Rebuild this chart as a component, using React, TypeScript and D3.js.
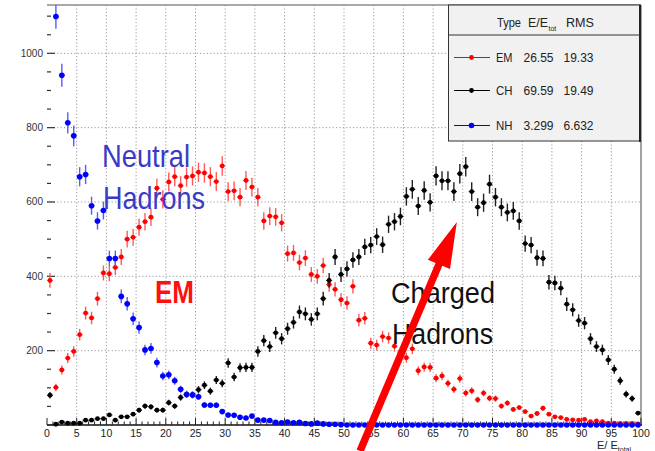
import React from "react";
import * as d3 from "d3";

// Per-bin counts, E/E_total from 0 to 100 in 100 bins of width 1
const emCounts = [
  389, 101, 148, 180, 198, 243, 301, 288, 340, 409,
  407, 424, 452, 500, 505, 532, 547, 559, 637, 607,
  654, 668, 644, 667, 670, 680, 678, 668, 655, 697,
  628, 630, 613, 658, 640, 613, 549, 562, 560, 544,
  461, 463, 437, 449, 405, 400, 429, 378, 365, 337,
  328, 373, 282, 287, 220, 215, 238, 234, 212, 196,
  181, 205, 146, 156, 155, 126, 132, 112, 96, 125,
  86, 92, 68, 86, 72, 71, 51, 59, 42, 47,
  36, 24, 31, 45, 29, 22, 20, 15, 14, 13,
  15, 9, 11, 9, 5, 5, 4, 4, 4, 3,
];

const chCounts = [
  80, 2, 8, 5, 5, 5, 13, 13, 17, 17,
  27, 13, 22, 22, 29, 40, 51, 49, 40, 40,
  60, 51, 74, 83, 81, 95, 107, 91, 121, 112,
  167, 129, 154, 155, 155, 198, 227, 211, 248, 232,
  259, 276, 304, 299, 284, 299, 340, 389, 452, 405,
  420, 444, 452, 479, 484, 507, 485, 540, 547, 561,
  615, 634, 589, 631, 599, 670, 657, 657, 628, 676,
  695, 628, 586, 598, 648, 613, 586, 572, 576, 549,
  488, 484, 450, 448, 384, 382, 368, 325, 310, 281,
  274, 232, 211, 202, 175, 150, 119, 83, 71, 32,
];

// First bin lies above the drawn range
const nhCounts: (number | null)[] = [
  null, 1099, 941, 813, 778, 668, 674, 590, 549, 577,
  448, 448, 346, 326, 286, 262, 202, 206, 168, 132,
  135, 119, 96, 82, 81, 76, 54, 53, 53, 36,
  27, 26, 21, 19, 24, 13, 13, 12, 7, 6,
  8, 6, 7, 4, 3, 5, 3, 2, 2, 1,
  0, 0, 0, 0, 0, 0, 0, 0, 0, 0,
  0, 0, 0, 0, 0, 0, 0, 0, 0, 0,
  0, 0, 0, 0, 0, 0, 0, 0, 0, 0,
  0, 0, 0, 0, 0, 0, 0, 0, 0, 0,
  0, 0, 0, 0, 0, 0, 0, 0, 0, 0,
];

const xTickLabels = ["0", "5", "10", "15", "20", "25", "30", "35", "40", "45", "50",
  "55", "60", "65", "70", "75", "80", "85", "90", "95", "100"];
const yTickLabels = ["200", "400", "600", "800", "1000"];

const legendRows = [
  { type: "EM", mean: "26.55", rms: "19.33" },
  { type: "CH", mean: "69.59", rms: "19.49" },
  { type: "NH", mean: "3.299", rms: "6.632" },
];

// Arrow pointing at the charged-hadron peak (data coordinates)
const arrowFrom = { e: 52.7, n: -70 };
const arrowTo = { e: 69.0, n: 546 };

const W = 655;
const H = 451;
const FONT = "'Liberation Sans', Arial, Helvetica, sans-serif";

const x = d3.scaleLinear().domain([0, 100]).range([47, 641]);
const y = d3.scaleLinear().domain([0, 1130]).range([425, 5]);

type Series = {
  key: string;
  counts: (number | null)[];
  color: string;
  errColor: string;
  r: number;
};

const series: Series[] = [
  { key: "em", counts: emCounts, color: "#ff0000", errColor: "#ff5a5a", r: 2.4 },
  { key: "ch", counts: chCounts, color: "#000000", errColor: "#222222", r: 2.4 },
  { key: "nh", counts: nhCounts, color: "#0000ff", errColor: "#5a5aff", r: 2.8 },
];

function Hist({ s }: { s: Series }) {
  const binW = x(1) - x(0);
  return (
    <g>
      {s.counts.map((v, i) => {
        if (v === null) return null;
        const cx = x(i + 0.5);
        const err = Math.sqrt(v);
        return (
          <g key={i}>
            <line x1={cx} x2={cx} y1={y(v + err)} y2={y(Math.max(0, v - err))}
              stroke={s.errColor} strokeWidth={1.4} />
            <line x1={cx - binW / 2} x2={cx + binW / 2} y1={y(v)} y2={y(v)}
              stroke={s.errColor} strokeWidth={1.2} />
            <circle cx={cx} cy={y(v)} r={s.r} fill={s.color} />
          </g>
        );
      })}
    </g>
  );
}

function Arrow() {
  const x0 = x(arrowFrom.e), y0 = y(arrowFrom.n);
  const x1 = x(arrowTo.e), y1 = y(arrowTo.n);
  const len = Math.hypot(x1 - x0, y1 - y0);
  const ux = (x1 - x0) / len, uy = (y1 - y0) / len;
  const px = -uy, py = ux;
  const headLen = 46, headHalf = 12, shaftHalf = 3.7;
  const bx = x1 - ux * headLen, by = y1 - uy * headLen;
  const pts = [
    [x0 + px * shaftHalf, y0 + py * shaftHalf],
    [bx + px * shaftHalf, by + py * shaftHalf],
    [bx + px * headHalf, by + py * headHalf],
    [x1, y1],
    [bx - px * headHalf, by - py * headHalf],
    [bx - px * shaftHalf, by - py * shaftHalf],
    [x0 - px * shaftHalf, y0 - py * shaftHalf],
  ];
  return <polygon points={pts.map((p) => p.join(",")).join(" ")} fill="#ff0000" />;
}

function Word({ x: tx, y: ty, w, size, fill, weight, children }: {
  x: number; y: number; w: number; size: number; fill: string; weight?: string; children: string;
}) {
  return (
    <text x={tx} y={ty} fontSize={size} fill={fill} fontWeight={weight || "normal"}
      textLength={w} lengthAdjust="spacingAndGlyphs" fontFamily={FONT}>
      {children}
    </text>
  );
}

export default function App() {
  const xMajor = d3.range(0, 101, 5);
  const xMinor = d3.range(0, 101, 1).filter((v) => v % 5 !== 0);
  const yMajor = d3.range(0, 1001, 200);
  const yMinor = d3.range(50, 1101, 50).filter((v) => v % 200 !== 0);
  const x0 = x(0), x1 = x(100), yBase = y(0), yTop = 5;

  const lgX0 = 448.5, lgX1 = 640, lgY0 = 5, lgY1 = 141;
  const rowY = [57.5, 90.5, 125.5];

  return (
    <svg width={W} height={H} viewBox={`0 0 ${W} ${H}`}
      style={{ position: "absolute", left: 0, top: 0, background: "#fff" }}
      fontFamily={FONT}>
      <defs>
        <clipPath id="plotArea">
          <rect x={x0} y={yTop} width={x1 - x0} height={yBase - yTop + 4} />
        </clipPath>
      </defs>
      <rect x={0} y={0} width={W} height={H} fill="#fff" />

      {/* grid */}
      <g stroke="#9a9a9a" strokeWidth={1} strokeDasharray="1.2,2.2">
        {xMajor.filter((v) => v > 0 && v < 100).map((v) => (
          <line key={v} x1={x(v)} x2={x(v)} y1={yTop} y2={yBase} />
        ))}
        {yMajor.filter((v) => v > 0).map((v) => (
          <line key={v} x1={x0} x2={x1} y1={y(v)} y2={y(v)} />
        ))}
      </g>

      {/* frame */}
      <line x1={x0} x2={x1} y1={yTop} y2={yTop} stroke="#8c8c8c" strokeWidth={1.6} />
      <line x1={x1} x2={x1} y1={yTop} y2={yBase} stroke="#8c8c8c" strokeWidth={1.6} />
      <line x1={x0} x2={x1 + 1} y1={yBase} y2={yBase} stroke="#111" strokeWidth={1.3} />

      {/* y ticks */}
      <g stroke="#333" strokeWidth={1.2}>
        {yMajor.map((v) => <line key={v} x1={x0} x2={x0 + 8} y1={y(v)} y2={y(v)} />)}
        {yMinor.map((v) => <line key={v} x1={x0} x2={x0 + 4} y1={y(v)} y2={y(v)} />)}
      </g>
      {yTickLabels.map((t) => (
        <text key={t} x={43} y={y(+t) + 3.5} fontSize={10} fill="#333" textAnchor="end">{t}</text>
      ))}

      {/* x ticks */}
      <g stroke="#222" strokeWidth={1}>
        {xMajor.map((v) => <line key={v} x1={x(v)} x2={x(v)} y1={yBase} y2={yBase - 7} />)}
        {xMinor.map((v) => <line key={v} x1={x(v)} x2={x(v)} y1={yBase} y2={yBase - 3.5} />)}
      </g>
      {xTickLabels.map((t) => (
        <text key={t} x={x(+t)} y={436.5} fontSize={10.5} fill="#222" textAnchor="middle">{t}</text>
      ))}
      <text x={597} y={449} fontSize={11} fill="#222">
        E/ E<tspan fontSize={7} dy={2.5}>total</tspan>
      </text>

      {/* histograms */}
      <g clipPath="url(#plotArea)">
        {series.map((s) => <Hist key={s.key} s={s} />)}
      </g>

      {/* annotations */}
      <Word x={102} y={167} w={88} size={32} fill="#3a3ac8">Neutral</Word>
      <Word x={103} y={209} w={102} size={32} fill="#3a3ac8">Hadrons</Word>
      <Word x={155} y={303} w={39} size={32} fill="#ff1010" weight="bold">EM</Word>
      <Word x={391} y={303} w={104} size={30} fill="#111">Charged</Word>
      <Word x={392} y={343.5} w={101} size={30} fill="#111">Hadrons</Word>
      <Arrow />

      {/* legend */}
      <g>
        <rect x={lgX0} y={lgY0} width={lgX1 - lgX0} height={lgY1 - lgY0} fill="#f1f1f1" stroke="#333" strokeWidth={1} />
        <line x1={lgX1} x2={lgX1} y1={lgY0} y2={lgY1 + 1} stroke="#222" strokeWidth={2} />
        <line x1={lgX0} x2={lgX1} y1={35} y2={35} stroke="#333" strokeWidth={1} />
        <text x={497} y={27} fontSize={12} fill="#222" textLength={24} lengthAdjust="spacingAndGlyphs">Type</text>
        <text x={528} y={27} fontSize={12} fill="#222" textLength={20} lengthAdjust="spacingAndGlyphs">E/E</text>
        <text x={548.5} y={30.5} fontSize={7} fill="#222">tot</text>
        <text x={566} y={27} fontSize={12} fill="#222" textLength={28} lengthAdjust="spacingAndGlyphs">RMS</text>
        {legendRows.map((row, i) => {
          const s = series[i];
          const ry = rowY[i];
          return (
            <g key={row.type}>
              <line x1={454} x2={490} y1={ry} y2={ry} stroke={s.color} strokeWidth={1} />
              <circle cx={471.5} cy={ry} r={s.r} fill={s.color} />
              <text x={496} y={ry + 4.5} fontSize={12} fill="#222" textLength={16.5} lengthAdjust="spacingAndGlyphs">{row.type}</text>
              <text x={553.5} y={ry + 4.5} fontSize={12} fill="#222" textAnchor="end">{row.mean}</text>
              <text x={593.5} y={ry + 4.5} fontSize={12} fill="#222" textAnchor="end">{row.rms}</text>
            </g>
          );
        })}
      </g>
    </svg>
  );
}
